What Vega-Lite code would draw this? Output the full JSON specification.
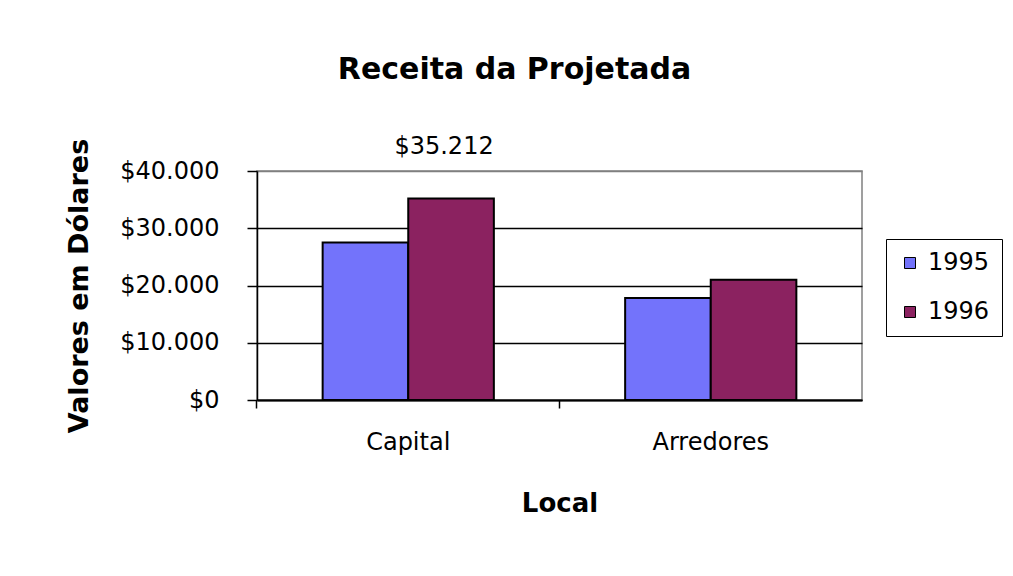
{
  "$schema": "https://vega.github.io/schema/vega-lite/v6.json",
  "width": 605,
  "height": 229,
  "autosize": {"type": "none"},
  "padding": {"left": 257, "top": 171, "right": 151, "bottom": 176},
  "background": "white",
  "config": {
    "locale": {"number": {"decimal": ",", "thousands": ".", "grouping": [3], "currency": ["$", ""]}},
    "font": "DejaVu Sans",
    "view": {"stroke": "#808080", "strokeWidth": 1.5},
    "axis": {
      "labelFont": "DejaVu Sans",
      "titleFont": "DejaVu Sans",
      "labelColor": "black",
      "titleColor": "black",
      "domainColor": "black",
      "tickColor": "black",
      "labelFontSize": 24,
      "titleFontSize": 26,
      "titleFontWeight": "bold"
    }
  },
  "title": {
    "text": "Receita da Projetada",
    "font": "DejaVu Sans",
    "fontSize": 30,
    "fontWeight": "bold",
    "color": "black",
    "anchor": "middle",
    "dx": -45,
    "offset": 50
  },
  "data": {
    "values": [
      {"Local": "Capital", "Ano": "1995", "Valor": 27500},
      {"Local": "Capital", "Ano": "1996", "Valor": 35212},
      {"Local": "Arredores", "Ano": "1995", "Valor": 17800},
      {"Local": "Arredores", "Ano": "1996", "Valor": 21000}
    ]
  },
  "layer": [
    {
      "mark": {"type": "bar", "stroke": "black", "strokeWidth": 2},
      "encoding": {
        "x": {
          "field": "Local",
          "type": "nominal",
          "sort": ["Capital", "Arredores"],
          "scale": {"paddingInner": 0.434, "paddingOuter": 0.217},
          "axis": {
            "title": "Local",
            "labelAngle": 0,
            "ticks": false,
            "tickSize": 0,
            "labelPadding": 30,
            "domainWidth": 2,
            "titlePadding": 36
          }
        },
        "xOffset": {
          "field": "Ano",
          "type": "nominal",
          "scale": {"paddingInner": 0, "paddingOuter": 0}
        },
        "y": {
          "field": "Valor",
          "type": "quantitative",
          "scale": {"domain": [0, 40000], "nice": false},
          "axis": {
            "title": "Valores em Dólares",
            "titleFontSize": 27,
            "titlePadding": 26,
            "values": [0, 10000, 20000, 30000, 40000],
            "format": "$,.0f",
            "tickSize": 10,
            "tickWidth": 1.5,
            "labelPadding": 28,
            "domainWidth": 1.5,
            "grid": true,
            "gridColor": {"condition": {"test": "datum.value == 40000", "value": "#808080"}, "value": "black"},
            "gridWidth": 1.5
          }
        },
        "color": {
          "field": "Ano",
          "type": "nominal",
          "scale": {"domain": ["1995", "1996"], "range": ["#7373fb", "#8b2260"]},
          "legend": {
            "title": null,
            "orient": "none",
            "legendX": 629,
            "legendY": 68,
            "symbolType": "square",
            "symbolSize": 121,
            "symbolStrokeColor": "black",
            "symbolStrokeWidth": 1,
            "symbolOpacity": 1,
            "labelFont": "DejaVu Sans",
            "labelFontSize": 24,
            "labelColor": "black",
            "labelOffset": 6,
            "rowPadding": 25,
            "padding": 12,
            "strokeColor": "black",
            "fillColor": "white"
          }
        }
      }
    },
    {
      "transform": [{"filter": "datum.Local == 'Capital' && datum.Ano == '1996'"}],
      "mark": {"type": "text", "fontSize": 24, "baseline": "alphabetic", "dy": -44, "dx": -7, "color": "black", "font": "DejaVu Sans"},
      "encoding": {
        "x": {
          "field": "Local",
          "type": "nominal",
          "sort": ["Capital", "Arredores"],
          "axis": {
            "orient": "bottom",
            "labels": false,
            "ticks": true,
            "tickSize": 8,
            "tickWidth": 1.5,
            "bandPosition": -0.3834,
            "domain": false,
            "grid": false,
            "title": null
          }
        },
        "xOffset": {"field": "Ano", "type": "nominal"},
        "y": {"field": "Valor", "type": "quantitative"},
        "text": {"field": "Valor", "type": "quantitative", "format": "$,.0f"}
      }
    }
  ],
  "resolve": {"axis": {"x": "independent"}}
}
